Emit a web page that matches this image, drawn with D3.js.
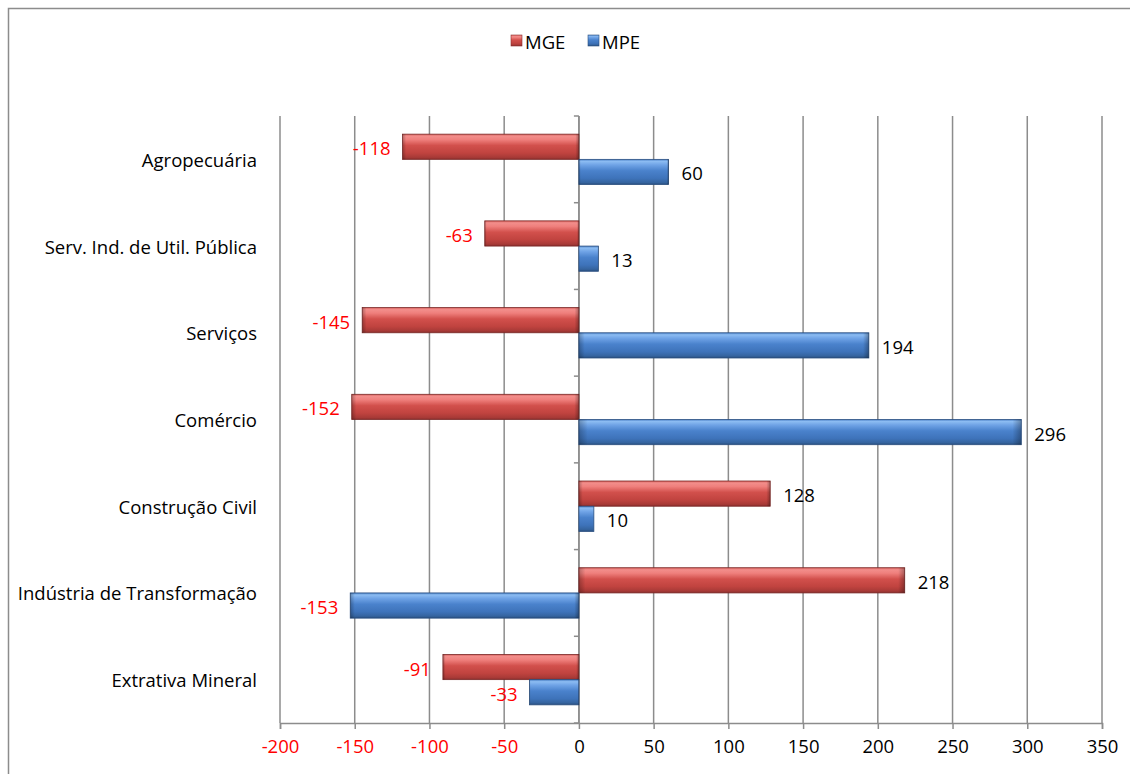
<!DOCTYPE html>
<html>
<head>
<meta charset="utf-8">
<script src="https://cdn.jsdelivr.net/npm/d3@7"></script>
<style>
  html, body { margin: 0; padding: 0; background: #fff; }
  svg { display: block; font-family: "Open Sans", "Noto Sans", "DejaVu Sans", sans-serif; }
</style>
</head>
<body>
<svg id="chart" width="1130" height="774"></svg>
<script>
const categories = ["Agropecuária", "Serv. Ind. de Util. Pública", "Serviços", "Comércio", "Construção Civil", "Indústria de Transformação", "Extrativa Mineral"];
const seriesNames = ["MGE", "MPE"];
const mgeValues = [-118, -63, -145, -152, 128, 218, -91];
const mpeValues = [60, 13, 194, 296, 10, -153, -33];
const xTicks = [-200, -150, -100, -50, 0, 50, 100, 150, 200, 250, 300, 350];

const svg = d3.select("#chart");
const W = 1130, H = 774;
const FS = 18.5;

// outer border
svg.append("rect").attr("x", 8.5).attr("y", 8.5).attr("width", W + 10).attr("height", H + 10)
  .attr("fill", "#fff").attr("stroke", "#8c8c8c").attr("stroke-width", 1.5);

const x = d3.scaleLinear().domain([-200, 350]).range([280, 1102]);
const y = d3.scaleBand().domain(categories).range([116, 723]);
const ySub = d3.scaleBand().domain(seriesNames).range([0, y.bandwidth()]).paddingOuter(0.72).paddingInner(0);

const defs = svg.append("defs");
function vgrad(id, stops) {
  const g = defs.append("linearGradient").attr("id", id).attr("x1", 0).attr("y1", 0).attr("x2", 0).attr("y2", 1);
  stops.forEach(s => g.append("stop").attr("offset", s[0]).attr("stop-color", s[1]));
}
vgrad("gMGE", [[0, "#d8605d"], [0.08, "#f28e8b"], [0.22, "#ef7f7c"], [0.45, "#d2504c"], [0.75, "#c0433f"], [0.92, "#a83a37"], [1, "#8a2e2c"]]);
vgrad("gMPE", [[0, "#4d82c8"], [0.08, "#8cbcf2"], [0.22, "#6fa3e6"], [0.45, "#4a82cc"], [0.75, "#3e73ba"], [0.92, "#35649f"], [1, "#284d7c"]]);
const hg = defs.append("linearGradient").attr("id", "hShade").attr("x1", 0).attr("y1", 0).attr("x2", 1).attr("y2", 0);
hg.append("stop").attr("offset", 0).attr("stop-color", "#000").attr("stop-opacity", 0.25);
hg.append("stop").attr("offset", 0.02).attr("stop-color", "#000").attr("stop-opacity", 0);
hg.append("stop").attr("offset", 0.98).attr("stop-color", "#000").attr("stop-opacity", 0);
hg.append("stop").attr("offset", 1).attr("stop-color", "#000").attr("stop-opacity", 0.3);

// gridlines
svg.append("g").selectAll("line").data(xTicks).join("line")
  .attr("x1", d => x(d)).attr("x2", d => x(d))
  .attr("y1", 116).attr("y2", 723)
  .attr("stroke", "#8c8c8c").attr("stroke-width", 1.5);

// bottom axis
const xAxis = svg.append("g").attr("transform", "translate(0,723)")
  .call(d3.axisBottom(x).tickValues(xTicks).tickSize(6).tickPadding(11).tickFormat(d => String(d)));
xAxis.select(".domain").attr("stroke", "#8c8c8c").attr("stroke-width", 1.5);
xAxis.selectAll(".tick line").attr("stroke", "#8c8c8c").attr("stroke-width", 1.5);
xAxis.selectAll(".tick text").attr("font-size", FS).attr("font-family", "Open Sans, Noto Sans, sans-serif")
  .attr("fill", d => d < 0 ? "#ff0000" : "#000");

// category axis at zero
const yAxis = svg.append("g").attr("transform", `translate(${x(0)},0)`);
yAxis.append("line").attr("x1", 0).attr("x2", 0).attr("y1", 116).attr("y2", 723).attr("stroke", "#8c8c8c").attr("stroke-width", 1.5);
const bounds = categories.map(c => y(c)).concat([723]);
yAxis.selectAll("line.tk").data(bounds).join("line").attr("class", "tk")
  .attr("x1", -5).attr("x2", 0).attr("y1", d => d).attr("y2", d => d)
  .attr("stroke", "#8c8c8c").attr("stroke-width", 1.5);

// category labels
svg.append("g").selectAll("text").data(categories).join("text")
  .attr("x", 257).attr("y", d => y(d) + y.bandwidth() / 2)
  .attr("text-anchor", "end").attr("dominant-baseline", "central")
  .attr("font-size", FS).attr("fill", "#000").text(d => d);

// bars
const rows = [];
categories.forEach((c, i) => {
  rows.push({ cat: c, s: "MGE", v: mgeValues[i] });
  rows.push({ cat: c, s: "MPE", v: mpeValues[i] });
});
const bars = svg.append("g");
bars.selectAll("rect.bar").data(rows).join("rect").attr("class", "bar")
  .attr("x", d => Math.min(x(0), x(d.v)))
  .attr("y", d => y(d.cat) + ySub(d.s))
  .attr("width", d => Math.abs(x(d.v) - x(0)))
  .attr("height", ySub.bandwidth())
  .attr("fill", d => `url(#g${d.s})`)
  .attr("stroke", d => d.s === "MGE" ? "#7a2a28" : "#2a4f80").attr("stroke-width", 0.8);
bars.selectAll("rect.shade").data(rows).join("rect").attr("class", "shade")
  .attr("x", d => Math.min(x(0), x(d.v)))
  .attr("y", d => y(d.cat) + ySub(d.s))
  .attr("width", d => Math.abs(x(d.v) - x(0)))
  .attr("height", ySub.bandwidth())
  .attr("fill", "url(#hShade)");

// value labels
svg.append("g").selectAll("text").data(rows).join("text")
  .attr("x", d => d.v < 0 ? x(d.v) - 12 : x(d.v) + 13)
  .attr("y", d => y(d.cat) + ySub(d.s) + ySub.bandwidth() / 2 + 1)
  .attr("text-anchor", d => d.v < 0 ? "end" : "start")
  .attr("dominant-baseline", "central")
  .attr("font-size", FS)
  .attr("fill", d => d.v < 0 ? "#ff0000" : "#000")
  .text(d => d.v);

// legend
const leg = svg.append("g");
const legItems = [{ s: "MGE", x: 511 }, { s: "MPE", x: 588 }];
leg.selectAll("rect").data(legItems).join("rect")
  .attr("x", d => d.x).attr("y", 35).attr("width", 11).attr("height", 11)
  .attr("fill", d => `url(#g${d.s})`).attr("stroke", d => d.s === "MGE" ? "#8a2e2c" : "#284d7c").attr("stroke-width", 0.6);
leg.selectAll("text").data(legItems).join("text")
  .attr("x", d => d.x + 14).attr("y", 41).attr("dominant-baseline", "central")
  .attr("font-size", FS).attr("fill", "#000").text(d => d.s);
</script>
</body>
</html>
